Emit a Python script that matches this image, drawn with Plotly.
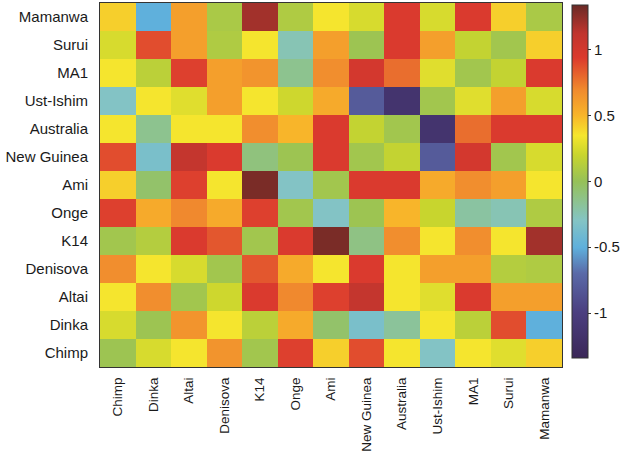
import plotly.graph_objects as go

populations = ["Chimp", "Dinka", "Altai", "Denisova", "K14", "Onge", "Ami",
               "New Guinea", "Australia", "Ust-Ishim", "MA1", "Surui", "Mamanwa"]

# rows listed from bottom (Chimp) to top (Mamanwa); columns in populations order
row_chimp      = [0.03, 0.25, 0.35, 0.65, 0.05, 0.92, 0.42, 0.88, 0.35, -0.30, 0.35, 0.28, 0.42]
row_dinka      = [0.25, 0.03, 0.65, 0.35, 0.15, 0.55, -0.05, -0.35, -0.18, 0.35, 0.15, 0.88, -0.50]
row_altai      = [0.35, 0.68, 0.05, 0.22, 0.95, 0.70, 0.92, 1.10, 0.35, 0.28, 0.95, 0.60, 0.60]
row_denisova   = [0.68, 0.35, 0.25, 0.05, 0.85, 0.55, 0.35, 0.95, 0.35, 0.60, 0.60, 0.12, 0.10]
row_k14        = [0.05, 0.12, 0.95, 0.85, 0.05, 0.95, 1.30, -0.12, 0.68, 0.35, 0.68, 0.35, 1.20]
row_onge       = [0.92, 0.55, 0.70, 0.55, 0.92, 0.05, -0.30, 0.03, 0.50, 0.20, -0.20, -0.25, 0.10]
row_ami        = [0.42, -0.05, 0.92, 0.35, 1.30, -0.30, 0.05, 0.95, 0.95, 0.55, 0.68, 0.60, 0.35]
row_newguinea  = [0.88, -0.35, 1.10, 0.95, -0.10, 0.03, 0.95, 0.05, 0.18, -0.80, 1.00, 0.05, 0.25]
row_australia  = [0.35, -0.15, 0.35, 0.35, 0.68, 0.50, 0.95, 0.18, 0.05, -1.15, 0.78, 0.95, 0.95]
row_ustishim   = [-0.30, 0.35, 0.28, 0.60, 0.35, 0.22, 0.55, -0.80, -1.15, 0.05, 0.28, 0.60, 0.25]
row_ma1        = [0.35, 0.15, 0.92, 0.60, 0.65, -0.15, 0.68, 1.00, 0.78, 0.28, 0.05, 0.18, 0.95]
row_surui      = [0.25, 0.88, 0.60, 0.10, 0.35, -0.25, 0.60, 0.03, 0.95, 0.60, 0.18, 0.05, 0.42]
row_mamanwa    = [0.42, -0.50, 0.60, 0.08, 1.20, 0.10, 0.35, 0.25, 0.95, 0.25, 0.95, 0.42, 0.08]

z = [row_chimp, row_dinka, row_altai, row_denisova, row_k14, row_onge, row_ami,
     row_newguinea, row_australia, row_ustishim, row_ma1, row_surui, row_mamanwa]

zmin, zmax = -1.34, 1.34
cb_ticks = [-1, -0.5, 0, 0.5, 1]
cb_labels = ["-1", "-0.5", "0", "0.5", "1"]

colorscale = [
    [0.000, "#3b2758"],
    [0.130, "#4b3f80"],
    [0.240, "#5a6aa8"],
    [0.313, "#5fb0dc"],
    [0.390, "#84c4c4"],
    [0.500, "#96c158"],
    [0.575, "#c8d52e"],
    [0.630, "#f5e62e"],
    [0.687, "#f8b52a"],
    [0.760, "#f08a2e"],
    [0.850, "#dc3a2e"],
    [0.920, "#c0352e"],
    [1.000, "#6a2a26"],
]

base = "Liberation Sans, Arial, sans-serif"
fig = go.Figure(go.Heatmap(
    z=z, x=populations, y=populations,
    zmin=zmin, zmax=zmax, colorscale=colorscale,
    colorbar=dict(
        x=1.0216, xanchor="left", y=0.51, yanchor="middle",
        len=0.97, lenmode="fraction", thickness=16,
        xpad=0, ypad=0,
        outlinecolor="#333333", outlinewidth=1,
        tickvals=cb_ticks, ticktext=cb_labels,
        ticks="outside", ticklen=3, tickcolor="#333333",
        tickfont=dict(family=base, size=15, color="#1a1a1a"),
    ),
))

fig.update_layout(
    width=625, height=457,
    margin=dict(l=100, r=63, t=3, b=90, autoexpand=False),
    paper_bgcolor="white", plot_bgcolor="white",
    font=dict(family=base, size=14, color="#1a1a1a"),
)
fig.update_xaxes(type="category", tickangle=-90, showline=True, mirror=True,
                 linecolor="#333333", linewidth=1, ticks="",
                 ticklabelstandoff=4,
                 tickfont=dict(family=base, size=13.5, color="#1a1a1a"))
fig.update_yaxes(type="category", showline=True, mirror=True,
                 linecolor="#333333", linewidth=1, ticks="",
                 ticklabelstandoff=8,
                 tickfont=dict(family=base, size=15, color="#1a1a1a"))

fig.write_html("out.html",
               config={"displayModeBar": False},
               post_script="document.body.style.margin='0';document.body.style.overflow='hidden';")
